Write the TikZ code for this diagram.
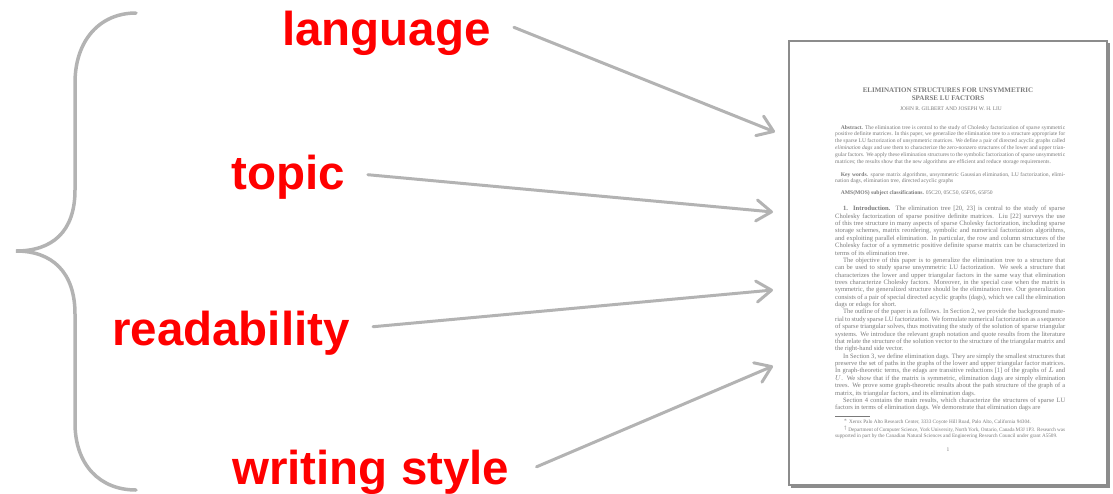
\documentclass[tikz,border=0pt]{standalone}
\usepackage{fontspec}
\newfontfamily\labfont{Liberation Sans}
\newfontfamily\paperfont{Liberation Serif}
\usetikzlibrary{arrows.meta,calc}
\definecolor{conn}{HTML}{B3B3B3}
\definecolor{lblred}{HTML}{FF0000}
\definecolor{pagetext}{HTML}{7A7A7A}
\begin{document}
\begin{tikzpicture}[x=1pt,y=-1pt,
  lbl/.style={font=\labfont\bfseries\fontsize{47.5}{47.5}\selectfont, text=lblred, inner sep=0pt, anchor=base west},
  connector/.style={draw=conn, line width=3pt, line cap=round,
    -{Straight Barb[length=15pt,width=21pt,line cap=round,line join=round]}},
  bracestyle/.style={draw=conn, line width=3.5pt, line cap=round},
  ptxt/.style={text=pagetext, inner sep=0pt, anchor=north west}
]
\useasboundingbox (0,0) rectangle (1113,493);

% brace
\draw[bracestyle] (136,13) .. controls (100,13) and (75,40) .. (75,83) -- (75,190)
  .. controls (75,232) and (52,251) .. (16,251)
  .. controls (52,251) and (75,272) .. (75,314) -- (75,423)
  .. controls (75,465) and (100,490) .. (136,490);

% labels
\node[lbl] (lang) at (282,45) {language};
\node[lbl] (topic) at (231,189) {topic};
\node[lbl] (read) at (112,345) {readability};
\node[lbl] (style) at (232,484) {writing style};

% page
\fill[black!45] (791,43) rectangle (1110,488);
\fill[black!25] (790,42) rectangle (1108,486);
\node[draw=black!45, line width=1.6pt, fill=white, minimum width=318pt, minimum height=444pt, inner sep=0pt, anchor=north west] (page) at (788,40) {};

\coordinate (t1) at (775,132);
\coordinate (t2) at (773,212);
\coordinate (t3) at (773,290);
\coordinate (t4) at (773,366);

\draw[connector] ($(lang.east)+(23,-5.5)$) -- (t1);
\draw[connector] ($(topic.east)+(23,-2)$) -- (t2);
\draw[connector] ($(read.east)+(23,-6)$) -- (t3);
\draw[connector] ($(style.east)+(27,-5)$) -- (t4);

% page content
\node[ptxt, anchor=north, align=center, font=\paperfont\bfseries\fontsize{7}{7.4}\selectfont] (title) at (948,88)
  {ELIMINATION STRUCTURES FOR UNSYMMETRIC\\ SPARSE LU FACTORS};
\node[ptxt, anchor=north, font=\paperfont\fontsize{5.4}{6}\selectfont] (auth) at (951,107)
  {JOHN R. GILBERT AND JOSEPH W. H. LIU};
\node[ptxt] (abs) at (835,125) {\parbox[t]{230pt}{\paperfont\fontsize{5.6}{6.8}\selectfont\setlength{\parindent}{1em}%
  \textbf{Abstract.} The elimination tree is central to the study of Cholesky factorization of sparse symmetric positive definite matrices. In this paper, we generalize the elimination tree to a structure appropriate for the sparse LU factorization of unsymmetric matrices. We define a pair of directed acyclic graphs called \emph{elimination dags} and use them to characterize the zero-nonzero structures of the lower and upper triangular factors. We apply these elimination structures to the symbolic factorization of sparse unsymmetric matrices; the results show that the new algorithms are efficient and reduce storage requirements.}};
\node[ptxt] (kw) at (835,172) {\parbox[t]{230pt}{\paperfont\fontsize{5.6}{6.8}\selectfont\setlength{\parindent}{1em}%
  \textbf{Key words.} sparse matrix algorithms, unsymmetric Gaussian elimination, LU factorization, elimination dags, elimination tree, directed acyclic graphs}};
\node[ptxt] (ams) at (835,190) {\parbox[t]{230pt}{\paperfont\fontsize{5.6}{6.8}\selectfont\setlength{\parindent}{1em}%
  \textbf{AMS(MOS) subject classifications.} 05C20, 05C50, 65F05, 65F50}};
\node[ptxt] (intro) at (835,206) {\parbox[t]{230pt}{\paperfont\fontsize{6.55}{7.37}\selectfont\setlength{\parindent}{1.2em}%
  \textbf{1. Introduction.} The elimination tree [20, 23] is central to the study of sparse Cholesky factorization of sparse positive definite matrices. Liu [22] surveys the use of this tree structure in many aspects of sparse Cholesky factorization, including sparse storage schemes, matrix reordering, symbolic and numerical factorization algorithms, and exploiting parallel elimination. In particular, the row and column structures of the Cholesky factor of a symmetric positive definite sparse matrix can be characterized in terms of its elimination tree.\par
  The objective of this paper is to generalize the elimination tree to a structure that can be used to study sparse unsymmetric LU factorization. We seek a structure that characterizes the lower and upper triangular factors in the same way that elimination trees characterize Cholesky factors. Moreover, in the special case when the matrix is symmetric, the generalized structure should be the elimination tree. Our generalization consists of a pair of special directed acyclic graphs (dags), which we call the elimination dags or edags for short.\par
  The outline of the paper is as follows. In Section 2, we provide the background material to study sparse LU factorization. We formulate numerical factorization as a sequence of sparse triangular solves, thus motivating the study of the solution of sparse triangular systems. We introduce the relevant graph notation and quote results from the literature that relate the structure of the solution vector to the structure of the triangular matrix and the right-hand side vector.\par
  In Section 3, we define elimination dags. They are simply the smallest structures that preserve the set of paths in the graphs of the lower and upper triangular factor matrices. In graph-theoretic terms, the edags are transitive reductions [1] of the graphs of $L$ and $U$. We show that if the matrix is symmetric, elimination dags are simply elimination trees. We prove some graph-theoretic results about the path structure of the graph of a matrix, its triangular factors, and its elimination dags.\par
  Section 4 contains the main results, which characterize the structures of sparse LU factors in terms of elimination dags. We demonstrate that elimination dags are}};
\draw[pagetext, line width=0.5pt] (835,416) -- (870,416);
\node[ptxt] (foot) at (835,419) {\parbox[t]{230pt}{\paperfont\fontsize{5.2}{6}\selectfont\setlength{\parindent}{1.6em}%
  $^*$ Xerox Palo Alto Research Center, 3333 Coyote Hill Road, Palo Alto, California 94304.\par
  $^\dagger$ Department of Computer Science, York University, North York, Ontario, Canada M3J 1P3. Research was supported in part by the Canadian Natural Sciences and Engineering Research Council under grant A5509.}};
\node[ptxt, anchor=center, font=\paperfont\fontsize{5.5}{6}\selectfont] (pnum) at (948,450) {1};
\end{tikzpicture}
\end{document}
